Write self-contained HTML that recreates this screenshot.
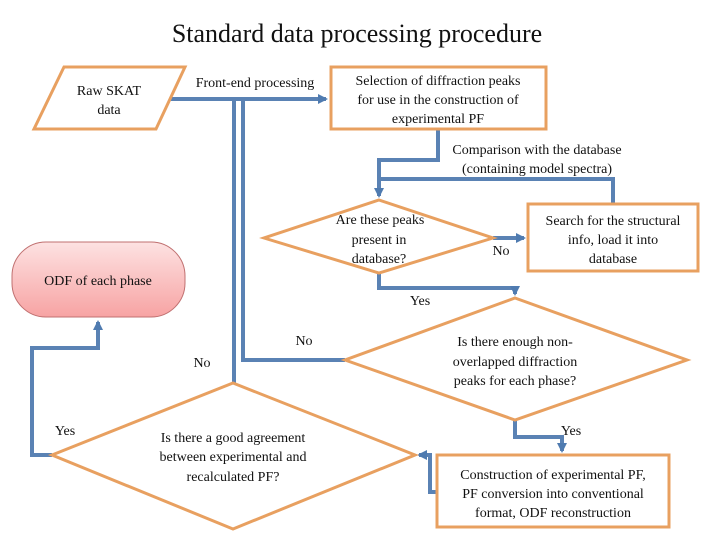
<!DOCTYPE html>
<html><head><meta charset="utf-8"><style>
body{margin:0;background:#fff}
.t{font-family:"Liberation Serif","Times New Roman",Times,serif;font-size:14px;fill:#111}
</style></head><body>
<svg width="720" height="540" xmlns="http://www.w3.org/2000/svg">
<defs>
<marker id="a" markerWidth="12" markerHeight="12" refX="8" refY="6" orient="auto" markerUnits="userSpaceOnUse"><path d="M0,1 L10,6 L0,11 Z" fill="#4f7bb0"/></marker>
<linearGradient id="g" x1="0" y1="0" x2="0" y2="1"><stop offset="0" stop-color="#fde2e2"/><stop offset="1" stop-color="#f7a3a3"/></linearGradient>
</defs>
<text x="357" y="42" text-anchor="middle" class="t" style="font-size:26px">Standard data processing procedure</text>
<g fill="none" stroke="#5a82b4" stroke-width="4">
<polyline points="170,99 326,99" marker-end="url(#a)"/>
<polyline points="234,99 234,383"/>
<polyline points="243,99 243,360 345,360"/>
<polyline points="438,130 438,160 379,160 379,196" marker-end="url(#a)"/>
<polyline points="379,179 613,179 613,204"/>
<polyline points="493,238 524,238" marker-end="url(#a)"/>
<polyline points="379,273 379,288 515,288 515,294" marker-end="url(#a)"/>
<polyline points="515,420 515,437 562,437 562,451" marker-end="url(#a)"/>
<polyline points="437,492 430,492 430,455 419,455" marker-end="url(#a)"/>
<polyline points="52,455 32,455 32,348 98,348 98,322" marker-end="url(#a)"/>
</g>
<g fill="#fff" stroke="#e8a060" stroke-width="3">
<polygon points="64,67 185,67 156,129 34,129"/>
<rect x="331" y="67" width="215" height="62"/>
<rect x="528" y="204" width="170" height="67"/>
<polygon points="379,200 493,238 379,273 264,238"/>
<polygon points="515,298 687,360 515,420 345,360"/>
<polygon points="233,383 415,455 233,529 52,455"/>
<rect x="437" y="455" width="232" height="72"/>
</g>
<rect x="12" y="242" width="173" height="75" rx="34" fill="url(#g)" stroke="#c07070" stroke-width="1"/>
<g text-anchor="middle" class="t">
<text class="t" x="109" y="95">Raw SKAT</text><text class="t" x="109" y="114">data</text>
<text class="t" x="255" y="87">Front-end processing</text>
<text class="t" x="438" y="85">Selection of diffraction peaks</text>
<text class="t" x="438" y="104">for use in the construction of</text>
<text class="t" x="438" y="123">experimental PF</text>
<text class="t" x="537" y="154">Comparison with the database</text>
<text class="t" x="537" y="173">(containing model spectra)</text>
<text class="t" x="380" y="224">Are these peaks</text>
<text class="t" x="379" y="244">present in</text>
<text class="t" x="379" y="263">database?</text>
<text class="t" x="613" y="225">Search for the structural</text>
<text class="t" x="613" y="244">info, load it into</text>
<text class="t" x="613" y="263">database</text>
<text class="t" x="501" y="255">No</text>
<text class="t" x="98" y="285">ODF of each phase</text>
<text class="t" x="420" y="305">Yes</text>
<text class="t" x="304" y="345">No</text>
<text class="t" x="202" y="367">No</text>
<text class="t" x="515" y="346">Is there enough non-</text>
<text class="t" x="515" y="366">overlapped diffraction</text>
<text class="t" x="515" y="385">peaks for each phase?</text>
<text class="t" x="65" y="435">Yes</text>
<text class="t" x="571" y="435">Yes</text>
<text class="t" x="233" y="442">Is there a good agreement</text>
<text class="t" x="233" y="461">between experimental and</text>
<text class="t" x="233" y="481">recalculated PF?</text>
<text class="t" x="553" y="479">Construction of experimental PF,</text>
<text class="t" x="553" y="498">PF conversion into conventional</text>
<text class="t" x="553" y="517">format, ODF reconstruction</text>
</g>
</svg>
</body></html>
